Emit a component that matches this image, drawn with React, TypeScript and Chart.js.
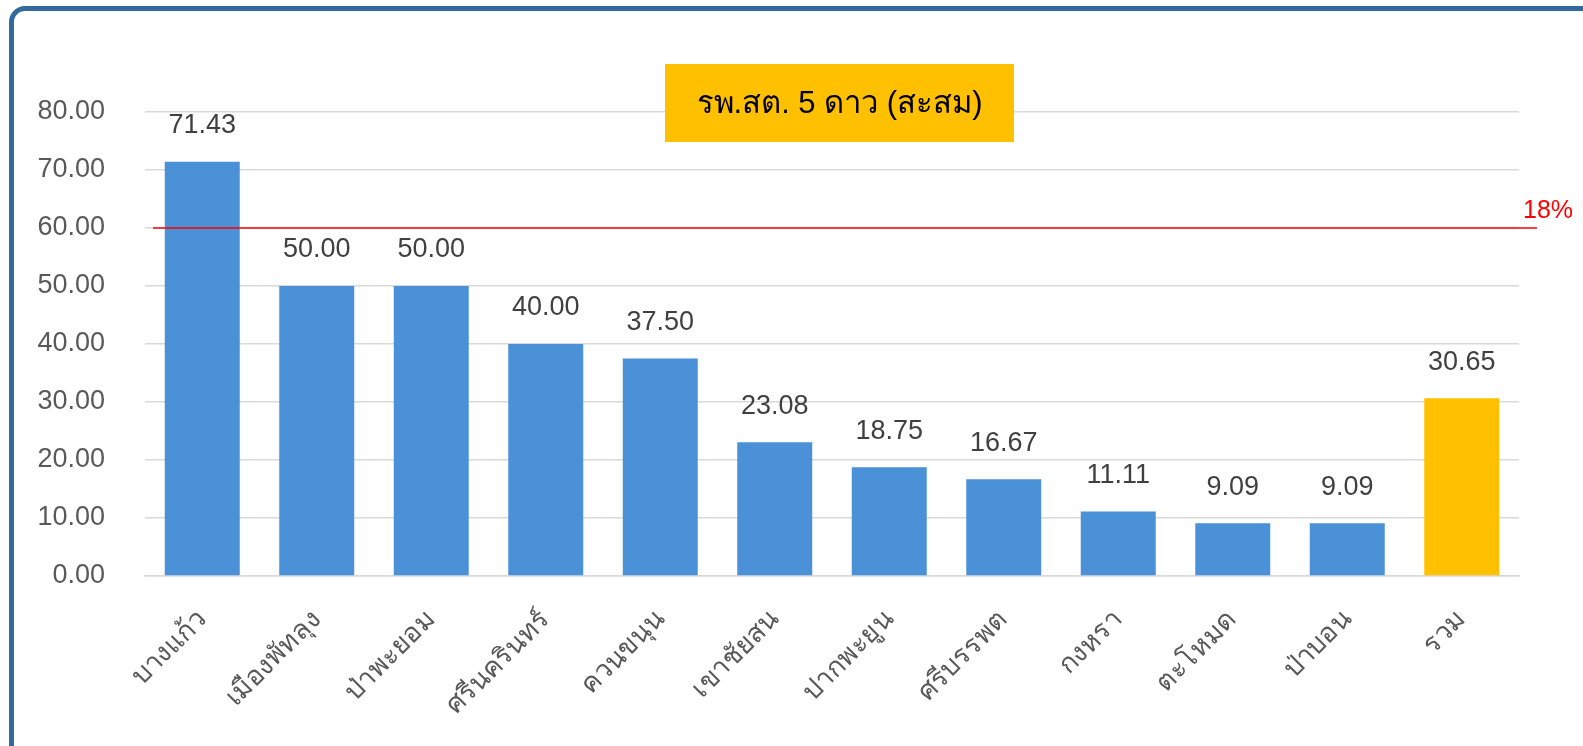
import React, { useEffect, useRef } from "react";
import { Chart, registerables } from "chart.js";

Chart.register(...registerables);

const categories = [
  "บางแก้ว",
  "เมืองพัทลุง",
  "ป่าพะยอม",
  "ศรีนครินทร์",
  "ควนขนุน",
  "เขาชัยสน",
  "ปากพะยูน",
  "ศรีบรรพต",
  "กงหรา",
  "ตะโหมด",
  "ป่าบอน",
  "รวม",
];
const values = [71.43, 50.0, 50.0, 40.0, 37.5, 23.08, 18.75, 16.67, 11.11, 9.09, 9.09, 30.65];
const barColors = [
  "#4A91D8", "#4A91D8", "#4A91D8", "#4A91D8", "#4A91D8", "#4A91D8",
  "#4A91D8", "#4A91D8", "#4A91D8", "#4A91D8", "#4A91D8", "#FFC000",
];
const yTicks = [0, 10, 20, 30, 40, 50, 60, 70, 80];
const targetValue = 60;
const targetLabel = "18%";
const titleText = "รพ.สต. 5 ดาว (สะสม)";

const FONT = "'Liberation Sans', Arial, sans-serif";

export default function App() {
  const ref = useRef<HTMLCanvasElement | null>(null);

  useEffect(() => {
    document.documentElement.style.overflow = "hidden";
    document.body.style.overflow = "hidden";
    const canvas = ref.current;
    if (!canvas) return;

    const overlay = {
      id: "overlay",
      afterDatasetsDraw(chart: any) {
        const ctx = chart.ctx;
        const meta = chart.getDatasetMeta(0);
        ctx.save();
        ctx.font = `27px ${FONT}`;
        ctx.fillStyle = "#404040";
        ctx.textAlign = "center";
        ctx.textBaseline = "middle";
        meta.data.forEach((bar: any, i: number) => {
          ctx.fillText(values[i].toFixed(2), bar.x, bar.y - 36);
        });
        ctx.restore();
      },
      afterDraw(chart: any) {
        const ctx = chart.ctx;
        const area = chart.chartArea;
        const y = chart.scales.y.getPixelForValue(targetValue);
        ctx.save();
        ctx.strokeStyle = "#FF0000";
        ctx.lineWidth = 1.5;
        ctx.beginPath();
        ctx.moveTo(area.left + 8, y);
        ctx.lineTo(area.right + 18, y);
        ctx.stroke();
        ctx.fillStyle = "#FF0000";
        ctx.font = `25px ${FONT}`;
        ctx.textAlign = "left";
        ctx.textBaseline = "alphabetic";
        ctx.fillText(targetLabel, area.right + 4, y - 10);

        // title box
        const bx = 665, by = 64, bw = 349, bh = 78;
        ctx.fillStyle = "#FFC000";
        ctx.fillRect(bx, by, bw, bh);
        ctx.fillStyle = "#000000";
        ctx.font = `31px ${FONT}`;
        ctx.textAlign = "center";
        ctx.textBaseline = "middle";
        ctx.fillText(titleText, bx + bw / 2, by + bh / 2 + 1);
        ctx.restore();
      },
    };

    const chart = new Chart(canvas, {
      type: "bar",
      data: {
        labels: categories,
        datasets: [
          {
            data: values,
            backgroundColor: barColors,
            borderWidth: 0,
            barPercentage: 0.655,
            categoryPercentage: 1,
          },
        ],
      },
      options: {
        responsive: false,
        animation: false,
        devicePixelRatio: 1,
        layout: { padding: { left: 0, right: 64, top: 112, bottom: 0 } },
        plugins: {
          legend: { display: false },
          tooltip: { enabled: false },
          title: { display: false },
        },
        scales: {
          x: {
            grid: { display: false, drawTicks: false },
            border: { color: "#D9D9D9", width: 1.5 },
            ticks: {
              color: "#595959",
              font: { size: 27, family: FONT },
              minRotation: 45,
              maxRotation: 45,
              padding: 28,
              autoSkip: false,
            },
            afterFit: (scale: any) => {
              scale.height = 170;
            },
          },
          y: {
            min: 0,
            max: 80,
            grid: { color: "#D9D9D9", lineWidth: 1.5, drawTicks: false },
            border: { display: false },
            afterBuildTicks: (scale: any) => {
              scale.ticks = yTicks.map((v) => ({ value: v }));
            },
            ticks: {
              color: "#595959",
              font: { size: 27, family: FONT },
              padding: 40,
              callback: (v: any) => Number(v).toFixed(2),
            },
            afterFit: (scale: any) => {
              scale.width = 145;
            },
          },
        },
      },
      plugins: [overlay],
    });

    return () => chart.destroy();
  }, []);

  return (
    <>
      <canvas
        ref={ref}
        width={1583}
        height={746}
        style={{ position: "fixed", left: 0, top: 0, width: 1583, height: 746 }}
      />
      <div
        style={{
          position: "fixed",
          left: 9,
          top: 6,
          width: 1620,
          height: 800,
          border: "5px solid #336A9E",
          borderRadius: 16,
          boxSizing: "border-box",
          pointerEvents: "none",
        }}
      />
    </>
  );
}
